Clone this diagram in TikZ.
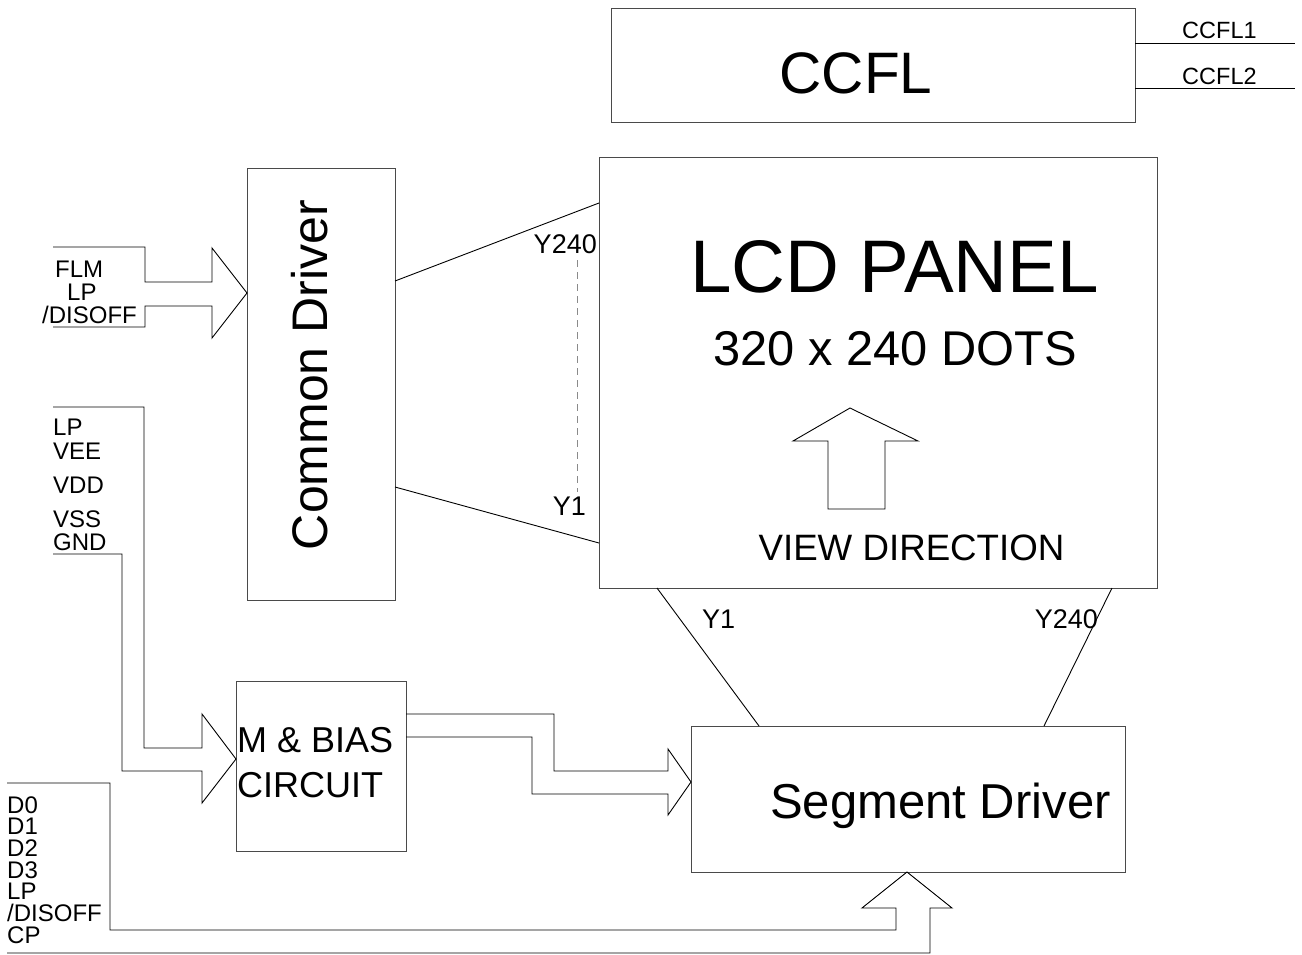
\documentclass[tikz,border=0pt]{standalone}
\usepackage{fontspec}
\setmainfont{Liberation Sans}
\usepackage{xcolor}
\usepackage{tikz}
\definecolor{DGLine}{HTML}{000000}
\definecolor{DGBox}{HTML}{4A4A4A}
\definecolor{DGDash}{HTML}{8A8A8A}
\newcommand\pinfont{\fontsize{24}{24}\selectfont}
\newcommand\yfont{\fontsize{27}{27}\selectfont}
\tikzset{
  blockbox/.style={draw=DGBox,line width=.9pt,inner sep=0pt,outer sep=0pt,anchor=north west},
  wire/.style={DGLine,line width=.9pt,line join=miter},
  pin/.style={inner sep=0pt,anchor=base west,font=\pinfont},
}

\begin{document}
\begin{tikzpicture}[x=1pt,y=-1pt]
\path[use as bounding box] (0,0) rectangle (1302,954);
\fill[white] (0,0) rectangle (1302,954);
% blocks
\node[blockbox,minimum width=524pt,minimum height=114pt] (ccfl) at (611,8) {};
\node[blockbox,minimum width=558pt,minimum height=431pt] (lcd) at (599,157) {};
\node[blockbox,minimum width=148pt,minimum height=432pt] (cdrv) at (247,168) {};
\node[blockbox,minimum width=170pt,minimum height=170pt] (mbias) at (236,681) {};
\node[blockbox,minimum width=434pt,minimum height=146pt] (seg) at (691,726) {};
% block texts
\node[inner sep=0pt,anchor=base] (ccfltxt) at (856,93) {\fontsize{58.5}{58}\selectfont CCFL};
\node[inner sep=0pt,anchor=base] (lcdtxt) at (894.5,292) {\fontsize{74.5}{74}\selectfont LCD PANEL};
\node[inner sep=0pt,anchor=base] (dotstxt) at (895,365) {\fontsize{48.8}{48}\selectfont 320 x 240 DOTS};
\node[inner sep=0pt,anchor=base] (viewtxt) at (911.5,560) {\fontsize{36.7}{36}\selectfont VIEW DIRECTION};
\node[inner sep=0pt,anchor=base] (segtxt) at (940.5,818) {\fontsize{49}{49}\selectfont Segment Driver};
\node[inner sep=0pt,rotate=90] (cdrvtxt) at (310,375) {\fontsize{50}{50}\selectfont Common Driver};
\node[inner sep=0pt,anchor=base west] (mtxt) at (237,752) {\fontsize{36}{36}\selectfont M \& BIAS};
\node[inner sep=0pt,anchor=base west] (circtxt) at (237,797) {\fontsize{36}{36}\selectfont CIRCUIT};
% ccfl leads
\coordinate (ccflA) at (1295,43);
\coordinate (ccflB) at (1295,88);
\draw[wire] (ccfl.east |- ccflA) -- (ccflA);
\draw[wire] (ccfl.east |- ccflB) -- (ccflB);
\node[inner sep=0pt,anchor=base west] (ccfl1) at (1182,38) {\fontsize{23.5}{23}\selectfont CCFL1};
\node[inner sep=0pt,anchor=base west] (ccfl2) at (1182,84) {\fontsize{23.5}{23}\selectfont CCFL2};
% common driver fan
\draw[wire] (cdrv.east |- 0,281) -- (lcd.west |- 0,203);
\draw[wire] (cdrv.east |- 0,487) -- (lcd.west |- 0,543);
\draw[DGDash,line width=.9pt,dash pattern=on 7pt off 5pt] (577,260) -- (577,492);
\node[inner sep=0pt,anchor=base east] (y240a) at (597,253) {\yfont Y240};
\node[inner sep=0pt,anchor=base east] (y1a) at (586,515) {\yfont Y1};
% segment driver fan
\draw[wire] (lcd.south -| 657,0) -- (seg.north -| 759,0);
\draw[wire] (lcd.south -| 1112,0) -- (seg.north -| 1044,0);
\node[inner sep=0pt,anchor=base west] (y1b) at (702,628) {\yfont Y1};
\node[inner sep=0pt,anchor=base east] (y240b) at (1098,628) {\yfont Y240};
% view direction arrow
\draw[wire] (850,408) -- (918,441) -- (885,441) -- (885,509) -- (828,509) -- (828,441) -- (793,441) -- cycle;
% inputs to common driver
\draw[wire] (53,247) -- (145,247) -- (145,282) -- (212,282) -- (212,248) -- (cdrv.west |- 0,293)
  -- (212,338) -- (212,306) -- (145,306) -- (145,327) -- (53,327);
\node[pin] (flm) at (55,277) {FLM};
\node[pin] (lpa) at (67,300) {LP};
\node[pin] (disa) at (42,323) {/DISOFF};
% inputs to m & bias
\draw[wire] (53,407) -- (144,407) -- (144,748) -- (202,748) -- (202,714) -- (mbias.west |- 0,759)
  -- (202,803) -- (202,771) -- (122,771) -- (122,554) -- (53,554);
\node[pin] (lpb) at (53,435) {LP};
\node[pin] (vee) at (53,459) {VEE};
\node[pin] (vdd) at (53,493) {VDD};
\node[pin] (vss) at (53,527) {VSS};
\node[pin] (gnd) at (53,550) {GND};
% m & bias to segment driver
\draw[wire] (mbias.east |- 0,714) -- (554,714) -- (554,771) -- (668,771) -- (668,749) -- (seg.west |- 0,782)
  -- (668,815) -- (668,794) -- (532,794) -- (532,737) -- (mbias.east |- 0,737);
% data inputs to segment driver
\draw[wire] (7,783) -- (110,783) -- (110,930) -- (896,930) -- (896,908) -- (862,908) -- (seg.south -| 907,0)
  -- (952,908) -- (930,908) -- (930,953) -- (7,953);
\node[pin] (d0) at (7,813) {D0};
\node[pin] (d1) at (7,834.7) {D1};
\node[pin] (d2) at (7,856.3) {D2};
\node[pin] (d3) at (7,878) {D3};
\node[pin] (lpc) at (7,899.7) {LP};
\node[pin] (disb) at (7,921.3) {/DISOFF};
\node[pin] (cp) at (7,943) {CP};
\end{tikzpicture}
\end{document}
